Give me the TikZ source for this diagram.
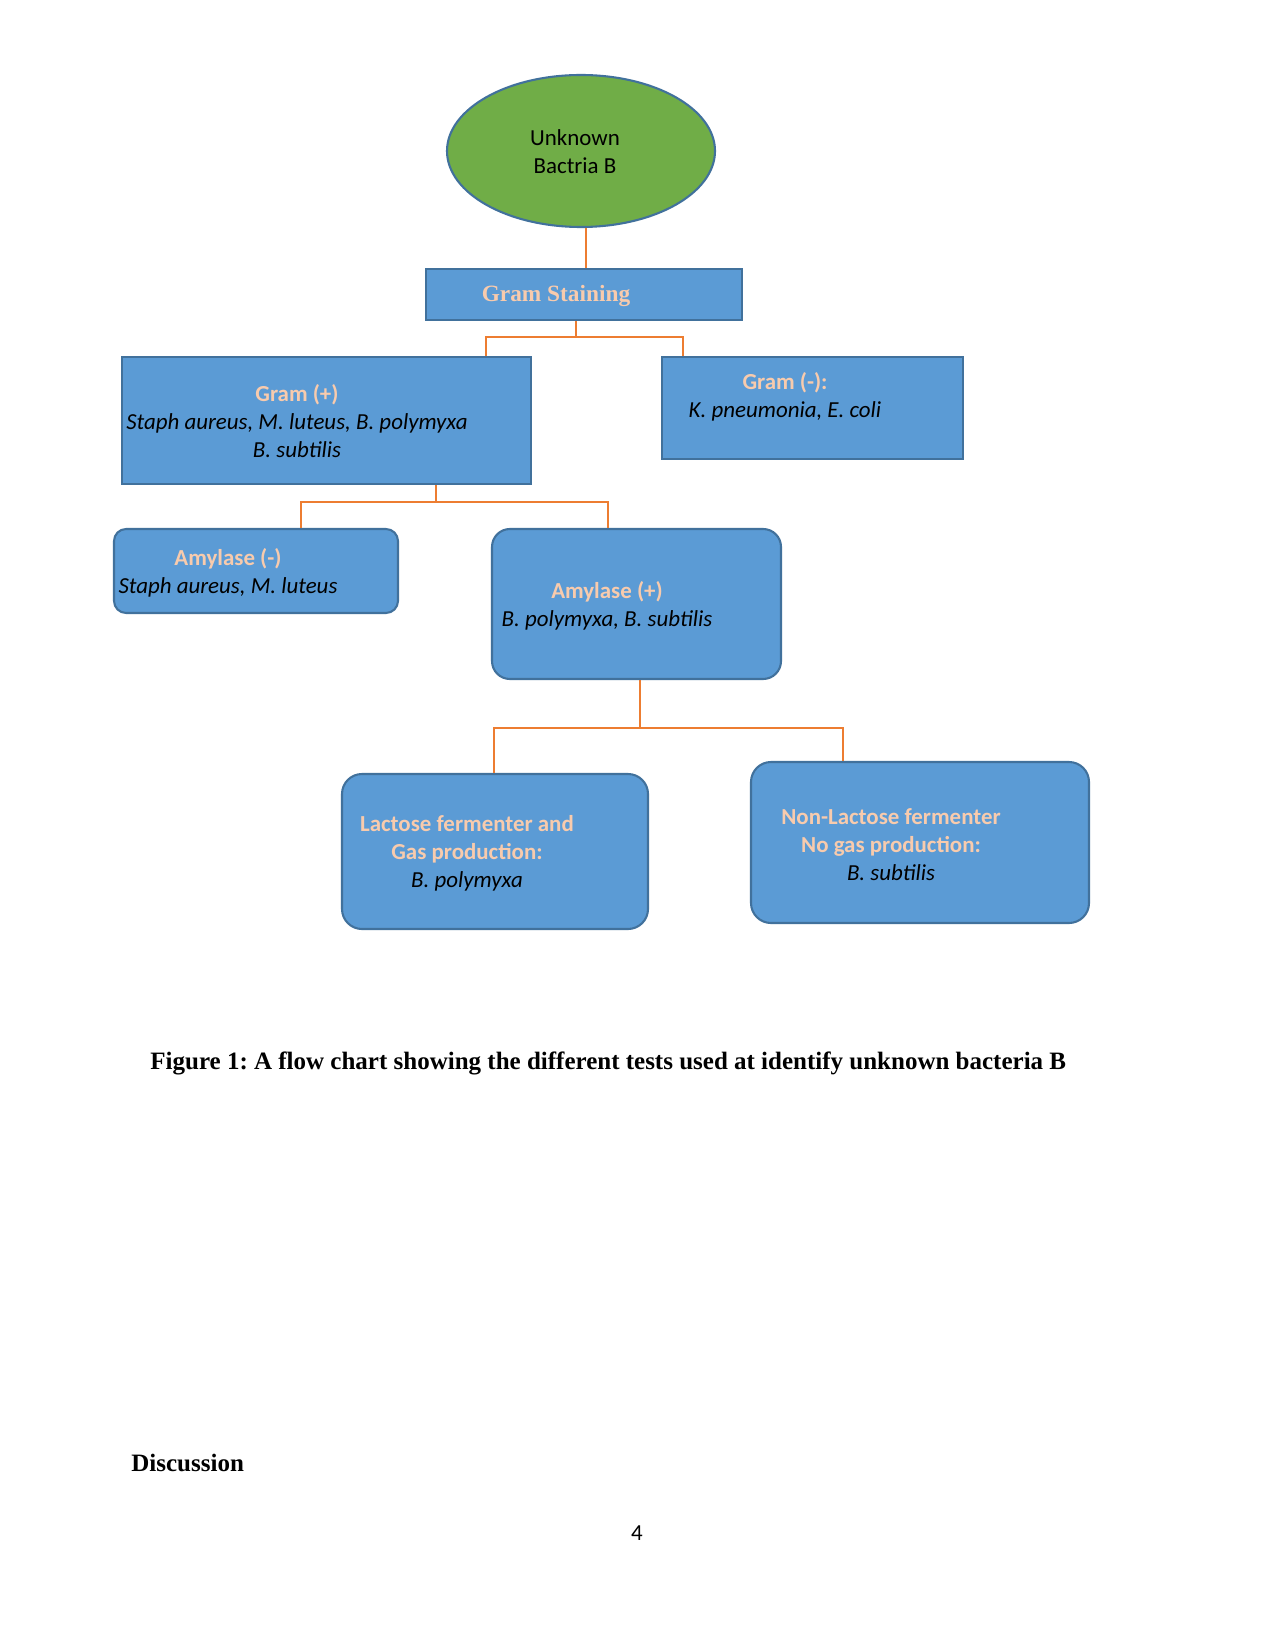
\documentclass[tikz,border=0pt]{standalone}
\usepackage{fontspec}
\setmainfont{Liberation Serif}
\newfontfamily\calibri{Carlito}
\usetikzlibrary{shapes.geometric}
\definecolor{boxblue}{HTML}{5B9BD5}
\definecolor{boxedge}{HTML}{41719C}
\definecolor{leaf}{HTML}{70AD47}
\definecolor{linkcol}{HTML}{ED7D31}
\definecolor{peach}{HTML}{F8CBAD}
\frenchspacing
\begin{document}
\begin{tikzpicture}[x=0.48pt,y=-0.48pt,
  boxbase/.style={draw=boxedge, fill=boxblue, line width=1pt, inner sep=0pt},
  sqbox/.style={boxbase, rectangle},
  rbox/.style={boxbase, rectangle, rounded corners=#1},
  txt/.style={font=\calibri\fontsize{11}{13.4}\selectfont, align=center, inner sep=0pt},
  link/.style={draw=linkcol, line width=0.55pt}]
\useasboundingbox (0,0) rectangle (1275,1650);
\fill[white] (0,0) rectangle (1275,1650);

% shapes
\node[ellipse, draw=boxedge, fill=leaf, line width=1pt, minimum width=128.64pt, minimum height=72.96pt, inner sep=0pt] (ell) at (581,151) {};
\node[sqbox, minimum width=151.68pt, minimum height=24.48pt] (gs) at (584,294.5) {};
\node[sqbox, minimum width=196.32pt, minimum height=60.96pt] (gp) at (326.5,420.5) {};
\node[sqbox, minimum width=144.48pt, minimum height=48.96pt] (gm) at (812.5,408) {};
\node[rbox=5.8pt, minimum width=136.32pt, minimum height=40.32pt] (am) at (256,571) {};
\node[rbox=8.6pt, minimum width=138.72pt, minimum height=72pt] (ap) at (636.5,604) {};
\node[rbox=9.6pt, minimum width=146.88pt, minimum height=74.4pt] (lf) at (495,851.5) {};
\node[rbox=9.6pt, minimum width=162.24pt, minimum height=77.28pt] (nl) at (920,842.5) {};

% texts
\node[txt] (tell) at (575,152) {Unknown\\Bactria B};
\node[inner sep=0pt, font=\fontsize{11.2}{14}\selectfont\bfseries, text=peach] (tgs) at (556,296) {Gram Staining};
\node[txt] (tgp) at (297,421.5) {{\bfseries\color{peach}Gram (+)}\\ \itshape Staph aureus, M. luteus, B. polymyxa\\ \itshape B. subtilis};
\node[txt] (tgm) at (785,397) {{\bfseries\color{peach}Gram (-):}\\ \itshape K. pneumonia, E. coli};
\node[txt] (tam) at (228,572.5) {{\bfseries\color{peach}Amylase (-)}\\ \itshape Staph aureus, M. luteus};
\node[txt] (tap) at (607,605.5) {{\bfseries\color{peach}Amylase (+)}\\ \itshape B. polymyxa, B. subtilis};
\node[txt] (tlf) at (467,853.5) {{\bfseries\color{peach}Lactose fermenter and}\\ {\bfseries\color{peach}Gas production:}\\ \itshape B. polymyxa};
\node[txt] (tnl) at (891,844.5) {{\bfseries\color{peach}Non-Lactose fermenter}\\ {\bfseries\color{peach}No gas production:}\\ \itshape B. subtilis};

% connectors
\coordinate (j0) at (586,240);
\draw[link] (ell.south -| j0) -- (gs.north -| j0);

\coordinate (j1) at (576,337);
\coordinate (j1l) at (486,337);
\coordinate (j1r) at (683,337);
\draw[link] (gs.south -| j1) -- (j1);
\draw[link] (gp.north -| j1l) -- (j1l) -- (j1r) -- (gm.north -| j1r);

\coordinate (j2) at (436,502);
\coordinate (j2l) at (301,502);
\coordinate (j2r) at (608,502);
\draw[link] (gp.south -| j2) -- (j2);
\draw[link] (am.north -| j2l) -- (j2l) -- (j2r) -- (ap.north -| j2r);

\coordinate (j3) at (640,728);
\coordinate (j3l) at (494,728);
\coordinate (j3r) at (843,728);
\draw[link] (ap.south -| j3) -- (j3);
\draw[link] (lf.north -| j3l) -- (j3l) -- (j3r) -- (nl.north -| j3r);

% caption and page text
\node[anchor=base west, inner sep=0pt, font=\fontsize{12}{14}\selectfont\bfseries] (cap) at (150,1069) {Figure 1: A flow chart showing the different tests used at identify unknown bacteria B};
\node[anchor=base west, inner sep=0pt, font=\fontsize{12}{14}\selectfont\bfseries] (disc) at (131,1471) {Discussion};
\node[anchor=base, inner sep=0pt, font=\calibri\fontsize{11}{13}\selectfont] (pg) at (637,1540) {4};
\end{tikzpicture}
\end{document}
